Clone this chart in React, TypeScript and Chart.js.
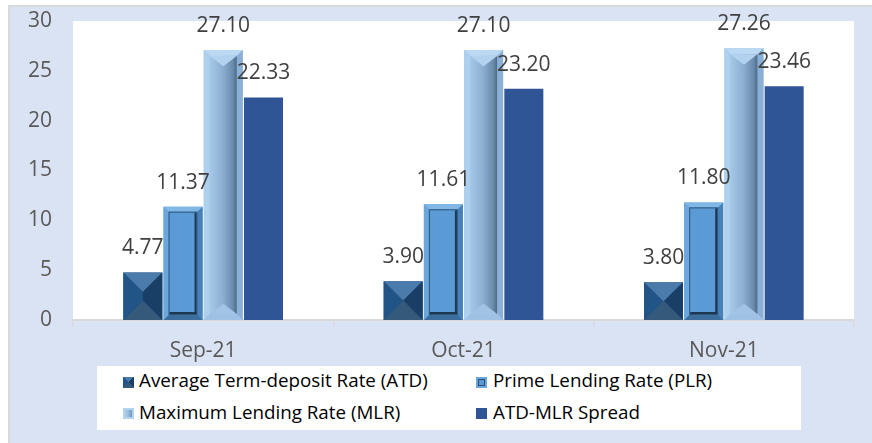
import React, { useEffect, useRef } from "react";
import { Chart, registerables } from "chart.js";

Chart.register(...registerables);

const categories = ["Sep-21", "Oct-21", "Nov-21"];
const seriesNames = [
  "Average Term-deposit Rate (ATD)",
  "Prime Lending Rate (PLR)",
  "Maximum Lending Rate (MLR)",
  "ATD-MLR Spread",
];
const atdValues = [4.77, 3.9, 3.8];
const plrValues = [11.37, 11.61, 11.8];
const mlrValues = [27.1, 27.1, 27.26];
const spreadValues = [22.33, 23.2, 23.46];
const seriesColors = ["#1f4e79", "#5b9bd5", "#9dc3e6", "#2f5597"];
const yMin = 0;
const yMax = 30;
const yStep = 5;

const FONT = "'Open Sans', 'DejaVu Sans', sans-serif";

function poly(ctx: CanvasRenderingContext2D, pts: number[][], color: string) {
  ctx.beginPath();
  ctx.moveTo(pts[0][0], pts[0][1]);
  for (let i = 1; i < pts.length; i++) ctx.lineTo(pts[i][0], pts[i][1]);
  ctx.closePath();
  ctx.fillStyle = color;
  ctx.fill();
}

function drawPyramid(ctx: CanvasRenderingContext2D, L: number, T: number, R: number, B: number) {
  const d = Math.min((R - L) / 2, (B - T) / 2);
  const iL = L + d, iR = R - d, iT = T + d, iB = B - d;
  poly(ctx, [[L, T], [R, T], [iR, iT], [iL, iT]], "#4b7bab");
  poly(ctx, [[R, T], [R, B], [iR, iB], [iR, iT]], "#1a3f66");
  poly(ctx, [[L, B], [R, B], [iR, iB], [iL, iB]], "#34597b");
  poly(ctx, [[L, T], [L, B], [iL, iB], [iL, iT]], "#215487");
  ctx.fillStyle = "#1f4e79";
  ctx.fillRect(iL, iT, Math.max(0, iR - iL), Math.max(0, iB - iT));
}

function drawFrame(ctx: CanvasRenderingContext2D, L: number, T: number, R: number, B: number) {
  const d = Math.min(5, (R - L) / 4, (B - T) / 4);
  const iL = L + d, iR = R - d, iT = T + d, iB = B - d;
  poly(ctx, [[L, T], [R, T], [iR, iT], [iL, iT]], "#80b7e7");
  poly(ctx, [[R, T], [R, B], [iR, iB], [iR, iT]], "#4682b9");
  poly(ctx, [[L, B], [R, B], [iR, iB], [iL, iB]], "#3b6d9d");
  poly(ctx, [[L, T], [L, B], [iL, iB], [iL, iT]], "#6aa7dd");
  ctx.fillStyle = "#5b9bd5";
  ctx.fillRect(iL, iT, iR - iL, iB - iT);
  ctx.strokeStyle = "#2f5679";
  ctx.lineWidth = 1;
  ctx.strokeRect(iL + 0.5, iT + 0.5, iR - iL - 1, iB - iT - 1);
  ctx.fillStyle = "#1b3752";
  ctx.fillRect(iR - 3, iT + 1, 2, iB - iT - 2);
  ctx.fillRect(iL + 1, iB - 3, iR - iL - 2, 2);
}

function drawGroove(ctx: CanvasRenderingContext2D, L: number, T: number, R: number, B: number) {
  const d = Math.min(6, (R - L) / 4, (B - T) / 4);
  const iL = L + d, iR = R - d, iT = T + d, iB = B - d;
  poly(ctx, [[L, T], [R, T], [iR, iT], [iL, iT]], "#bcd9f3");
  poly(ctx, [[R, T], [R, B], [iR, iB], [iR, iT]], "#8bb0d5");
  poly(ctx, [[L, B], [R, B], [iR, iB], [iL, iB]], "#9fc2e4");
  poly(ctx, [[L, T], [L, B], [iL, iB], [iL, iT]], "#add0ef");
  const g = ctx.createLinearGradient(iL, 0, iR, 0);
  g.addColorStop(0, "#a6c8e8");
  g.addColorStop(0.45, "#8eb0d2");
  g.addColorStop(0.85, "#6b8cac");
  g.addColorStop(1, "#4d6a87");
  ctx.fillStyle = g;
  ctx.fillRect(iL, iT, iR - iL, iB - iT);
  const cx = (iL + iR) / 2;
  const v = (iR - iL) / 2.6;
  poly(ctx, [[iL, iT], [iR, iT], [cx, iT + v]], "#b3d2ef");
  poly(ctx, [[iL, iB], [iR, iB], [cx, iB - v]], "#a2c3e3");
}

const bgPlugin = {
  id: "bgPlugin",
  beforeDraw(chart: any) {
    const { ctx, chartArea: a, width, height } = chart;
    ctx.save();
    ctx.fillStyle = "#ffffff";
    ctx.fillRect(0, 0, width, height);
    ctx.fillStyle = "#dae3f3";
    ctx.fillRect(10, 7, width - 10, height - 7);
    ctx.fillStyle = "#d9d9d9";
    ctx.fillRect(8, 5, width - 8, 2);
    ctx.fillRect(8, 5, 2, height - 5);
    ctx.fillStyle = "#ffffff";
    ctx.fillRect(a.left, a.top, a.right - a.left, a.bottom - a.top);
    ctx.restore();
  },
};

const barStylePlugin = {
  id: "barStylePlugin",
  afterDatasetsDraw(chart: any) {
    const ctx = chart.ctx;
    ctx.save();
    chart.data.datasets.forEach((ds: any, di: number) => {
      const meta = chart.getDatasetMeta(di);
      meta.data.forEach((el: any) => {
        const { x, y, base, width } = el.getProps(["x", "y", "base", "width"], true);
        const L = x - width / 2, R = x + width / 2, T = Math.min(y, base), B = Math.max(y, base);
        if (di === 0) drawPyramid(ctx, L, T, R, B);
        else if (di === 1) drawFrame(ctx, L, T, R, B);
        else if (di === 2) drawGroove(ctx, L, T, R, B);
      });
    });
    ctx.font = `21px ${FONT}`;
    ctx.fillStyle = "#404040";
    ctx.textAlign = "center";
    ctx.textBaseline = "middle";
    chart.data.datasets.forEach((ds: any, di: number) => {
      const meta = chart.getDatasetMeta(di);
      meta.data.forEach((el: any, i: number) => {
        const { x, y } = el.getProps(["x", "y"], true);
        ctx.fillText(Number(ds.data[i]).toFixed(2), x, y - 24);
      });
    });
    ctx.restore();
  },
};

const markerStyles: React.CSSProperties[] = [
  {
    background:
      "conic-gradient(from -45deg, #4b7bab 0deg 90deg, #1a3f66 90deg 180deg, #34597b 180deg 270deg, #215487 270deg 360deg)",
  },
  {
    background: "#5b9bd5",
    boxShadow: "inset 0 0 0 2px #6aa7dd, inset 0 0 0 3px #2a4d70",
  },
  {
    background: "linear-gradient(90deg, #add0ef 0%, #a6c8e8 30%, #8eb0d2 60%, #5d7d9c 100%)",
    boxShadow: "inset 0 0 0 2px #b3d3ef",
  },
  { background: "#2f5597" },
];

const legendPos = [
  { x: 26, y: 11, tx: 42, ty: 3.6 },
  { x: 379, y: 11, tx: 396, ty: 3.6 },
  { x: 26, y: 42, tx: 42, ty: 35.8 },
  { x: 379, y: 42, tx: 396, ty: 35.8 },
];

export default function App() {
  const ref = useRef<HTMLCanvasElement>(null);

  useEffect(() => {
    Chart.defaults.font.family = FONT;
    const chart = new Chart(ref.current as HTMLCanvasElement, {
      type: "bar",
      data: {
        labels: categories,
        datasets: [atdValues, plrValues, mlrValues, spreadValues].map((vals, i) => ({
          label: seriesNames[i],
          data: vals,
          backgroundColor: seriesColors[i],
          borderWidth: 0,
          barPercentage: 0.97,
          categoryPercentage: 0.618,
        })),
      },
      options: {
        animation: false,
        responsive: false,
        devicePixelRatio: 1,
        layout: { padding: { left: 10, right: 18, top: 21, bottom: 0 } },
        plugins: {
          legend: { display: false },
          tooltip: { enabled: false },
          title: { display: false },
        },
        scales: {
          x: {
            grid: {
              display: true,
              offset: true,
              drawOnChartArea: false,
              drawTicks: true,
              tickLength: 7,
              color: "#d9d9d9",
              lineWidth: 1.5,
            },
            border: { display: true, color: "#d9d9d9", width: 2 },
            ticks: { color: "#595959", font: { size: 21, family: FONT }, padding: 11 },
            afterFit: (s: any) => {
              s.height = 123;
            },
          },
          y: {
            min: yMin,
            max: yMax,
            grid: { display: false, drawTicks: false },
            border: { display: false },
            ticks: { stepSize: yStep, color: "#595959", font: { size: 21, family: FONT }, padding: 21 },
            afterFit: (s: any) => {
              s.width = 63;
              s.paddingTop = 0;
              s.paddingBottom = 0;
            },
          },
        },
      },
      plugins: [bgPlugin, barStylePlugin],
    } as any);
    return () => chart.destroy();
  }, []);

  return (
    <div style={{ position: "absolute", left: 0, top: 0, width: 872, height: 443, overflow: "hidden" }}>
      <canvas ref={ref} width={872} height={443} style={{ display: "block", width: 872, height: 443 }} />
      <div
        style={{
          position: "absolute",
          left: 97,
          top: 366,
          width: 704,
          height: 64,
          background: "#ffffff",
          fontFamily: FONT,
          fontSize: "18.8px",
          lineHeight: "20px",
          color: "#000000",
        }}
      >
        {seriesNames.map((name, i) => (
          <React.Fragment key={name}>
            <div
              style={{
                position: "absolute",
                left: legendPos[i].x,
                top: legendPos[i].y,
                width: 11,
                height: 11,
                ...markerStyles[i],
              }}
            />
            <div
              style={{
                position: "absolute",
                left: legendPos[i].tx,
                top: legendPos[i].ty,
                whiteSpace: "nowrap",
              }}
            >
              {name}
            </div>
          </React.Fragment>
        ))}
      </div>
    </div>
  );
}
